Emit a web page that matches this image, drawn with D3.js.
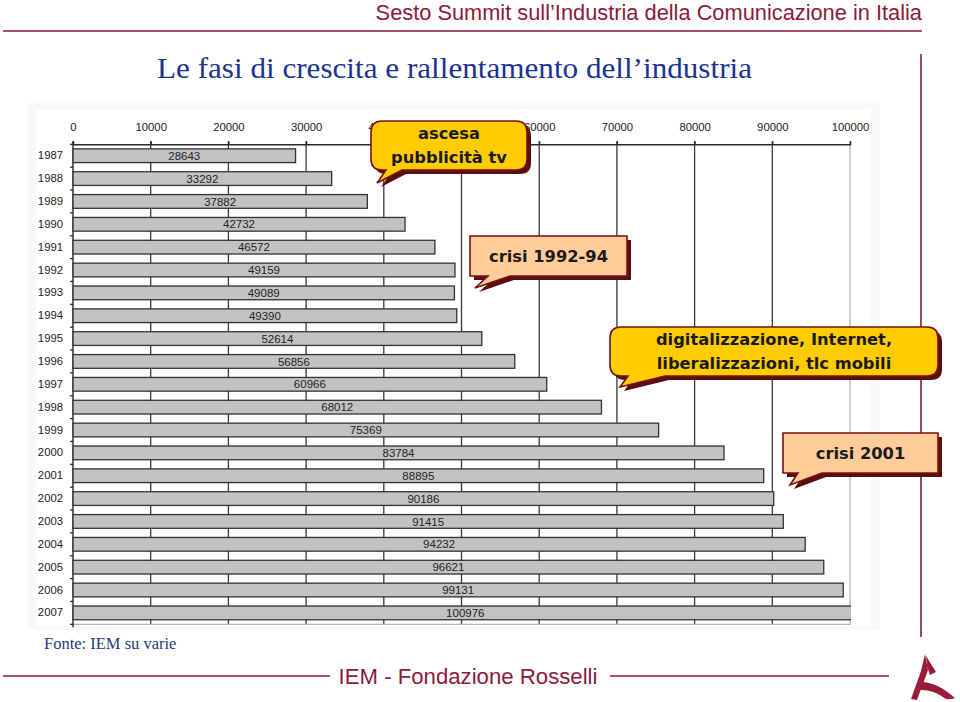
<!DOCTYPE html>
<html><head><meta charset="utf-8">
<script src="https://cdn.jsdelivr.net/npm/d3@7/dist/d3.min.js"></script>
<style>
html,body{margin:0;padding:0;background:#fff;}
svg{display:block;}
</style></head>
<body>
<script>
// ---------- data ----------
const years = ["1987","1988","1989","1990","1991","1992","1993","1994","1995","1996","1997","1998","1999","2000","2001","2002","2003","2004","2005","2006","2007"];
const values = [28643,33292,37882,42732,46572,49159,49089,49390,52614,56856,60966,68012,75369,83784,88895,90186,91415,94232,96621,99131,100976];
const xTicks = [0,10000,20000,30000,40000,50000,60000,70000,80000,90000,100000];
const headerText = "Sesto Summit sull\u2019Industria della Comunicazione in Italia";
const titleText = "Le fasi di crescita e rallentamento dell\u2019industria";
const sourceText = "Fonte: IEM su varie";
const footerText = "IEM - Fondazione Rosselli";
const callouts = [
  {lines:["ascesa","pubblicità tv"], kind:"yellow", box:[371,121,527,170], tip:[377,183], base:[386,402]},
  {lines:["crisi 1992-94"], kind:"peach", box:[470,236,627,276], tip:[475,288], base:[488,510]},
  {lines:["digitalizzazione, Internet,","liberalizzazioni, tlc mobili"], kind:"yellow", box:[610,327,938,376], tip:[620,387], base:[628,665]},
  {lines:["crisi 2001"], kind:"peach", box:[783,433,938,473], tip:[790,485], base:[798,822]}
];

const W = 960, H = 702;
const crimson = "#8c1a3c";
const svg = d3.select("body").append("svg").attr("width", W).attr("height", H);

// ---------- header ----------
svg.append("text").attr("x", 922).attr("y", 20).attr("text-anchor","end")
  .attr("font-family","Liberation Sans, Arial, sans-serif").attr("font-size",21.8)
  .attr("fill", crimson).text(headerText);
svg.append("line").attr("x1",3).attr("x2",922).attr("y1",31).attr("y2",31)
  .attr("stroke", crimson).attr("stroke-width",1.6);
svg.append("line").attr("x1",921).attr("x2",921).attr("y1",54).attr("y2",637)
  .attr("stroke", crimson).attr("stroke-width",1.6);
svg.append("text").attr("x", 157).attr("y", 78)
  .attr("font-family","Liberation Serif, DejaVu Serif, serif").attr("font-size",29.5)
  .attr("textLength",595).attr("lengthAdjust","spacingAndGlyphs")
  .attr("fill","#1c3490").text(titleText);

// ---------- chart picture background ----------
svg.append("rect").attr("x",28).attr("y",103).attr("width",852).attr("height",527)
  .attr("fill","#f9f9f9");
const x = d3.scaleLinear().domain([0,100000]).range([73,850]);
const y = d3.scaleBand().domain(years).range([144.3,624.3]).paddingInner(0.4).paddingOuter(0.2);
svg.append("rect").attr("x",36).attr("y",110).attr("width",834).attr("height",516).attr("fill","#fff");

const g = svg.append("g");
// grid lines
g.selectAll("line.grid").data(xTicks.slice(1)).join("line")
  .attr("x1", d=>x(d)).attr("x2", d=>x(d)).attr("y1", 141).attr("y2", y.range()[1])
  .attr("stroke", d=> d===100000 ? "#b5b5b5" : "#3a3a3a").attr("stroke-width", 1.3);
// bottom border
g.append("line").attr("x1",x(0)).attr("x2",x(100000)+1).attr("y1",y.range()[1]).attr("y2",y.range()[1])
  .attr("stroke","#b5b5b5").attr("stroke-width",1.3);

// top axis
const axT = g.append("g").attr("transform",`translate(0,${y.range()[0]})`)
  .call(d3.axisTop(x).tickValues(xTicks).tickFormat(d3.format("d")).tickSize(3).tickPadding(10));
axT.select(".domain").attr("stroke","#2a2a2a").attr("stroke-width",1.4);
axT.selectAll(".tick line").attr("stroke","#2a2a2a").attr("stroke-width",1.3);
axT.selectAll(".tick text").attr("font-family","Liberation Sans, Arial, sans-serif")
  .attr("font-size",11.3).attr("fill","#222");

// left axis line and boundary ticks
g.append("line").attr("x1",x(0)).attr("x2",x(0)).attr("y1",141).attr("y2",y.range()[1]+3)
  .attr("stroke","#2a2a2a").attr("stroke-width",1.4);
const step = y.step();
g.selectAll("line.btick").data(d3.range(years.length+1)).join("line")
  .attr("x1", x(0)-3).attr("x2", x(0))
  .attr("y1", i=> y.range()[0] + i*step).attr("y2", i=> y.range()[0] + i*step)
  .attr("stroke","#2a2a2a").attr("stroke-width",1.3);
const axL = g.append("g").attr("transform",`translate(${x(0)},0)`)
  .call(d3.axisLeft(y).tickSize(0).tickPadding(10));
axL.select(".domain").remove();
axL.selectAll(".tick text").attr("font-family","Liberation Sans, Arial, sans-serif")
  .attr("font-size",11.3).attr("fill","#222");

// bars
svg.append("clipPath").attr("id","plotclip").append("rect")
  .attr("x", x(0)-2).attr("y", 130).attr("width", x(100000)-x(0)+3).attr("height", 520);
const data = years.map((yr,i)=>({yr, v:values[i]}));
g.append("g").attr("clip-path","url(#plotclip)").selectAll("rect").data(data).join("rect")
  .attr("x", x(0)).attr("y", d=>y(d.yr)).attr("width", d=>x(d.v)-x(0)).attr("height", y.bandwidth())
  .attr("fill","#c2c2c2").attr("stroke","#333").attr("stroke-width",1.3);
g.selectAll("text.val").data(data).join("text")
  .attr("x", d=>x(d.v/2)).attr("y", d=>y(d.yr)+y.bandwidth()/2).attr("dy","0.36em")
  .attr("text-anchor","middle").attr("font-family","Liberation Sans, Arial, sans-serif")
  .attr("font-size",11.5).attr("fill","#222").text(d=>d.v);

// ---------- callouts ----------
function calloutPath(c){
  const [x0,y0,x1,y1] = c.box;
  const r = c.kind==="yellow" ? 11 : 0;
  const [bl,br] = c.base, [tx,ty] = c.tip;
  return `M${x0+r},${y0} L${x1-r},${y0} Q${x1},${y0} ${x1},${y0+r} L${x1},${y1-r} Q${x1},${y1} ${x1-r},${y1} `+
    `L${br},${y1} L${tx},${ty} L${bl},${y1} L${x0+r},${y1} Q${x0},${y1} ${x0},${y1-r} L${x0},${y0+r} Q${x0},${y0} ${x0+r},${y0} Z`;
}
const cg = svg.append("g");
callouts.forEach(c=>{
  const p = calloutPath(c);
  cg.append("path").attr("d",p).attr("transform","translate(4,4)").attr("fill","#5a0e0e");
  cg.append("path").attr("d",p).attr("fill", c.kind==="yellow" ? "#ffcc00" : "#ffcc99")
    .attr("stroke","#7a1010").attr("stroke-width",1.6);
  const cx = (c.box[0]+c.box[2])/2, cy = (c.box[1]+c.box[3])/2;
  const lh = 24;
  c.lines.forEach((t,i)=>{
    cg.append("text").attr("x",cx).attr("y", cy + (i-(c.lines.length-1)/2)*lh).attr("dy","0.36em")
      .attr("text-anchor","middle").attr("font-family","DejaVu Sans, Verdana, sans-serif")
      .attr("font-weight","bold").attr("font-size",16.3).attr("fill","#1a1a1a").text(t);
  });
});

// ---------- footer ----------
svg.append("text").attr("x",44).attr("y",649).attr("font-family","Liberation Serif, serif")
  .attr("font-size",16.5).attr("fill","#1f3a7a").text(sourceText);
svg.append("line").attr("x1",3).attr("x2",330).attr("y1",676).attr("y2",676).attr("stroke",crimson).attr("stroke-width",1.6);
svg.append("line").attr("x1",610).attr("x2",889).attr("y1",676).attr("y2",676).attr("stroke",crimson).attr("stroke-width",1.6);
svg.append("text").attr("x",468).attr("y",684).attr("text-anchor","middle")
  .attr("font-family","Liberation Sans, Arial, sans-serif").attr("font-size",22.2).attr("fill",crimson).text(footerText);

// logo
const lg = svg.append("g").attr("fill","#9b1b3b");
lg.append("path").attr("d","M925,654 L928,670 L917,700 L911,699 L921,671 Z");
lg.append("path").attr("d","M926,656 L936,672 L930,675 L927,666 Z");
lg.append("path").attr("d","M919,682 Q936,681 955,698 Q950,700 946,699 Q933,689 919,690 Z");
</script>
</body></html>
